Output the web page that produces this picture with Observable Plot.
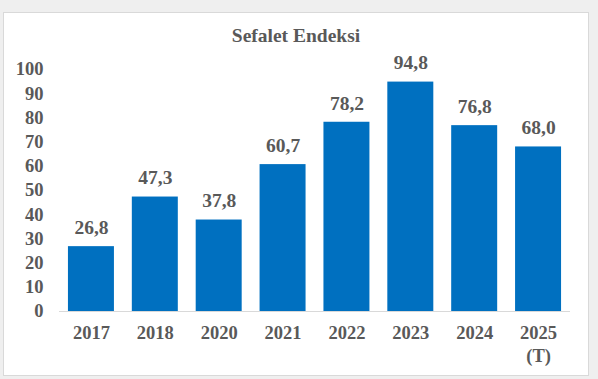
<!DOCTYPE html>
<html>
<head>
<meta charset="utf-8">
<script src="https://cdn.jsdelivr.net/npm/d3@7"></script>
<script src="https://cdn.jsdelivr.net/npm/@observablehq/plot@0.6"></script>
<style>
  html, body { margin: 0; padding: 0; background: #efefef; width: 598px; height: 379px; overflow: hidden; }
  #box { position: absolute; left: 3px; top: 12px; width: 584px; height: 362px; background: #fff; border: 1px solid #d9d9d9; }
  #title { position: absolute; left: 0; top: 25px; width: 598px; text-align: center; font-weight: bold; font-size: 19.5px; font-family: "Liberation Serif", "Times New Roman", serif; color: #595959; z-index: 2; }
  #chart { position: absolute; left: 0; top: 0; z-index: 1; }
  #chart svg text { font-family: "Liberation Serif", "Times New Roman", serif; }
</style>
</head>
<body>
<div id="box"></div>
<div id="title"><span style="position:relative;left:-3px">Sefalet Endeksi</span></div>
<div id="chart"></div>
<script>
const years = ["2017", "2018", "2020", "2021", "2022", "2023", "2024", "2025\n(T)"];
const values = [26.8, 47.3, 37.8, 60.7, 78.2, 94.8, 76.8, 68.0];
const yTicks = [0, 10, 20, 30, 40, 50, 60, 70, 80, 90, 100];

const data = years.map((y, i) => ({year: y, value: values[i]}));
const fmt = v => v.toFixed(1).replace(".", ",");

const plot = Plot.plot({
  width: 598,
  height: 379,
  marginLeft: 59,
  marginRight: 28,
  marginTop: 69,
  marginBottom: 68,
  style: {background: "transparent", fontFamily: "Liberation Serif, Times New Roman, serif", fontWeight: "bold", fontSize: "18.5px", color: "#595959"},
  x: {domain: years, paddingInner: 0.28, paddingOuter: 0.14, round: false, label: null},
  y: {domain: [0, 100], label: null},
  marks: [
    Plot.barY(data, {x: "year", y: "value", fill: "#0070c0"}),
    Plot.ruleY([0], {stroke: "#d9d9d9", strokeWidth: 1}),
    Plot.axisY({ticks: yTicks, tickSize: 0, tickPadding: 16, label: null, fill: "#595959", fontSize: 18.5, fontWeight: "bold"}),
    Plot.axisX({tickSize: 0, tickPadding: 11, label: null, fill: "#595959", fontSize: 18.5, fontWeight: "bold", lineHeight: 1.25}),
    Plot.text(data, {x: "year", y: "value", text: d => fmt(d.value), dy: -19, fill: "#595959", fontSize: 19.5, fontWeight: "bold"})
  ]
});
document.getElementById("chart").appendChild(plot);
</script>
</body>
</html>
